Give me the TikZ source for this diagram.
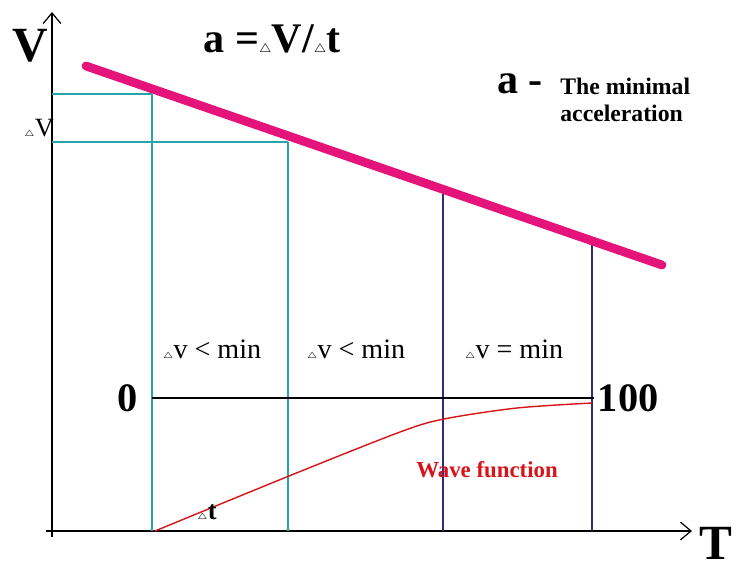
\documentclass[tikz,border=0pt]{standalone}
\usepackage{fontspec}
\setmainfont{Liberation Serif}
\usetikzlibrary{positioning,arrows.meta,calc}

\definecolor{gridteal}{RGB}{40,165,170}
\definecolor{gridnavy}{RGB}{45,45,125}
\definecolor{accline}{RGB}{228,20,122}
\definecolor{wavered}{RGB}{215,20,25}

% small hollow delta in front of a letter
\newcommand{\dlt}[1][5]{{\fontsize{#1}{#1}\selectfont$\triangle$}}

\begin{document}
\begin{tikzpicture}[
    x=0.02cm, y=-0.02cm,
    axis/.style={line width=0.7pt, -{Straight Barb[length=6pt,width=10pt]}},
    tealline/.style={draw=gridteal, line width=0.6pt},
    navyline/.style={draw=gridnavy, line width=0.6pt},
    zeroline/.style={draw=black, line width=0.9pt},
    accel/.style={draw=accline, line width=5pt, line cap=round},
    wave/.style={draw=wavered, line width=0.8pt},
    bigletter/.style={font=\fontsize{28}{30}\selectfont\bfseries, inner sep=0pt},
    numlabel/.style={font=\fontsize{23}{25}\selectfont\bfseries, inner sep=0pt},
    region/.style={font=\fontsize{16}{18}\selectfont, inner sep=0pt},
    note/.style={font=\fontsize{13.5}{15}\selectfont\bfseries, align=left, inner sep=0pt}
]
\useasboundingbox (0,0) rectangle (736,571);

% axes
\coordinate (orig) at (52,537);
\coordinate (ytop) at (52,12);
\coordinate (xleft) at (46,531);
\coordinate (xright) at (692,531);
\draw[axis] (orig) -- (ytop);
\draw[axis] (xleft) -- (xright);
\node[bigletter] (vlab) at (30,46) {V};
\node[bigletter, anchor=base] (tlab) at (716,559) {T};

% grid under the line
\coordinate (g1) at (152,94);
\coordinate (g2) at (288,142);
\coordinate (g3) at (443,193);
\coordinate (g4) at (592,244);
\coordinate (b1) at (152,531);
\coordinate (b2) at (288,531);
\coordinate (b3) at (443,531);
\coordinate (b4) at (592,531);
\draw[tealline] (b1) -- (g1);
\draw[tealline] (g1 -| orig) -- (g1);
\draw[tealline] (b2) -- (g2);
\draw[tealline] (g2 -| orig) -- (g2);
\draw[navyline] (b3) -- (g3);
\draw[navyline] (b4) -- (g4);

% minimal acceleration line
\coordinate (lstart) at (86,66);
\coordinate (lend) at (662,265);
\draw[accel] (lstart) -- (lend);

% zero level
\coordinate (z0) at (152,398);
\coordinate (z1) at (594,398);
\draw[zeroline] (z0) -- (z1);
\node[numlabel, left=8pt of z0] (zero) {0};
\node[numlabel, right=2pt of z1] (hundred) {100};

% wave function
\draw[wave] plot[smooth, tension=0.5] coordinates
    {(155,531) (289,476) (400,432) (444,419) (517,408) (592,403)};
\node[font=\fontsize{13}{15}\selectfont\bfseries, text=wavered, inner sep=0pt]
    (wavelab) at (487,470) {Wave function};
\node[font=\fontsize{15}{17}\selectfont\bfseries, inner sep=0pt] (dtlab) at (207,513) {\dlt t};

% region labels
\node[region] (r1) at (212,350) {\dlt v < min};
\node[region] (r2) at (356,350) {\dlt v < min};
\node[region] (r3) at (514,350) {\dlt v = min};

% formula and note
\node[font=\fontsize{24}{26}\selectfont\bfseries, inner sep=0pt] (formula) at (272,40)
    {a =\dlt[7]V/\dlt[7]t};
\node[font=\fontsize{15}{17}\selectfont, inner sep=0pt] (dvlab) at (39,129) {\dlt V};
\node[note, anchor=north west] (notetext) at (560,78) {The minimal\\acceleration};
\node[font=\fontsize{24}{26}\selectfont\bfseries, inner sep=0pt] (alab) at (520,84) {a -};

\end{tikzpicture}
\end{document}
